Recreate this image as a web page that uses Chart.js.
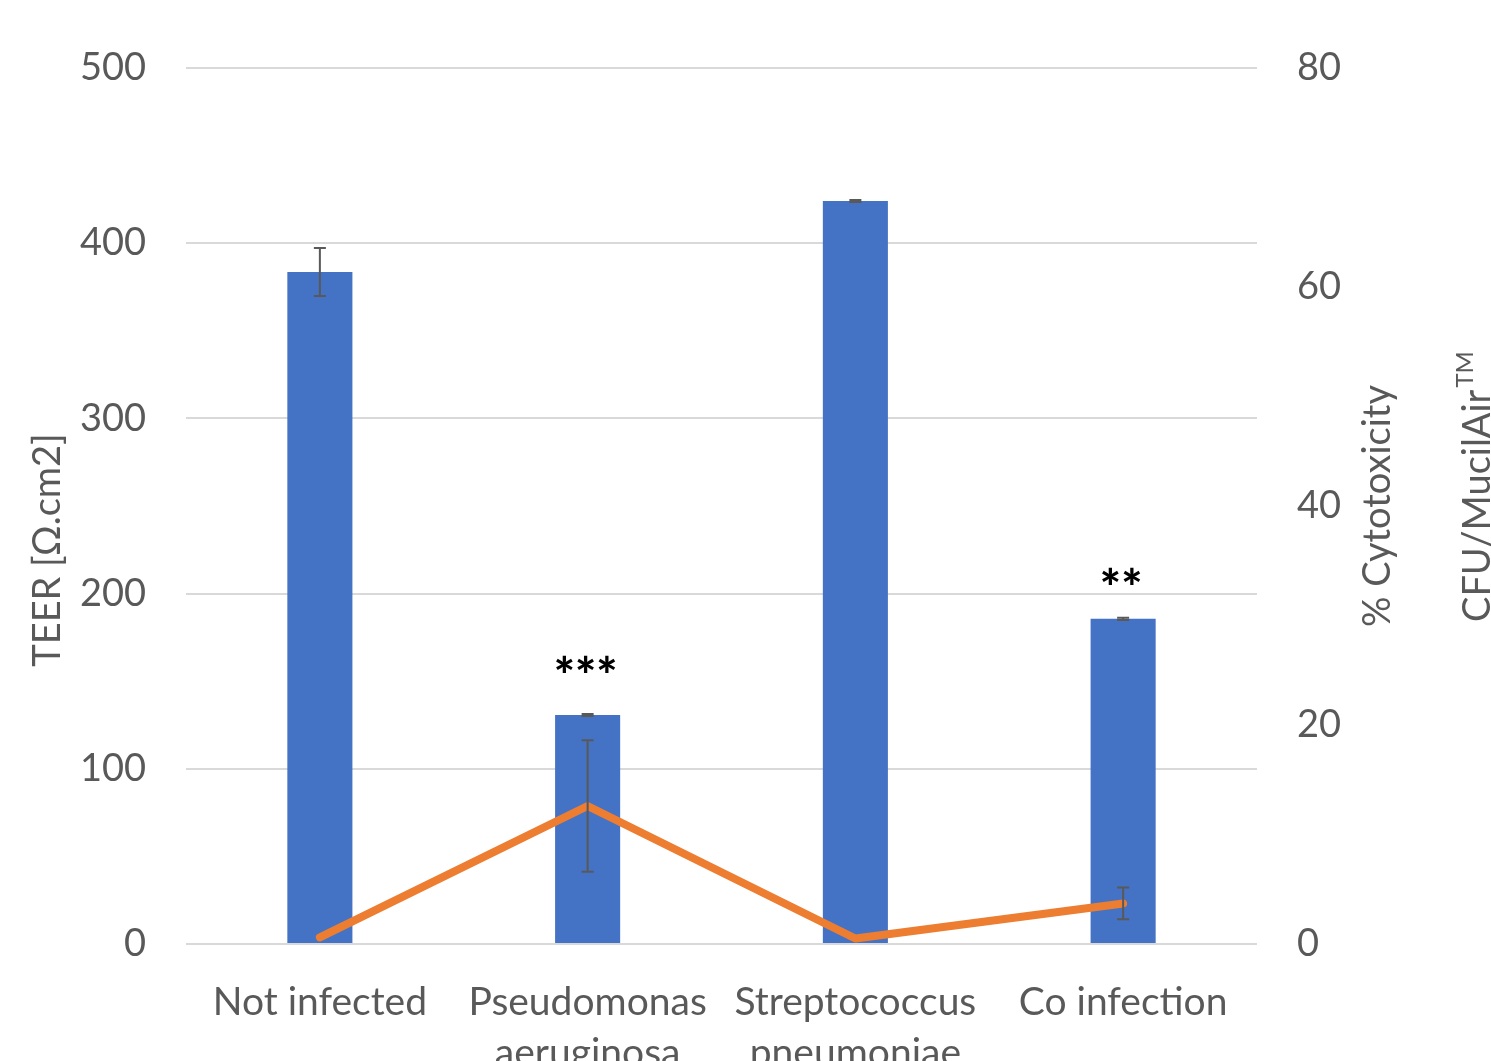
<!DOCTYPE html>
<html>
<head>
<meta charset="utf-8">
<script src="https://cdn.jsdelivr.net/npm/chart.js@4/dist/chart.umd.min.js"></script>
<style>
  html, body { margin: 0; padding: 0; background: #fff; overflow: hidden; }
  #wrap { width: 1491px; height: 1100px; }
</style>
</head>
<body>
<div id="wrap"><canvas id="teerChart" width="1491" height="1100"></canvas></div>
<script>
var categories = [["Not infected"], ["Pseudomonas", "aeruginosa"], ["Streptococcus", "pneumoniae"], ["Co infection"]];
var teer = [383.6, 130.7, 424.1, 185.6];
var teerErr = [13.7, 0.6, 0.6, 0.6];
var cytotox = [0.6, 12.6, 0.5, 3.7];
var cytotoxErr = [0, 6.0, 0, 1.45];
var stars = ["", "***", "", "**"];
var teerTicks = [0, 100, 200, 300, 400, 500];
var cytoTicks = [0, 20, 40, 60, 80];

var FONT = "Lato";
var GREY = "#595959";

// error bars + significance stars
var errorBars = {
  id: "errorBars",
  afterDatasetsDraw: function (chart) {
    var ctx = chart.ctx;
    ctx.save();
    chart.data.datasets.forEach(function (ds, i) {
      if (!ds.errors) return;
      var meta = chart.getDatasetMeta(i);
      var sc = chart.scales[ds.yAxisID];
      meta.data.forEach(function (el, j) {
        var e = ds.errors[j];
        if (!e) return;
        var x = el.x;
        var yHi = sc.getPixelForValue(ds.data[j] + e);
        var yLo = sc.getPixelForValue(ds.data[j] - e);
        ctx.strokeStyle = GREY;
        ctx.lineWidth = 2;
        ctx.beginPath();
        ctx.moveTo(x, yHi); ctx.lineTo(x, yLo);
        ctx.moveTo(x - 6, yHi); ctx.lineTo(x + 6, yHi);
        ctx.moveTo(x - 6, yLo); ctx.lineTo(x + 6, yLo);
        ctx.stroke();
      });
    });
    // stars above bars (text boxes sit at slightly different heights)
    var lift = [0, 21, 0, 13];
    var barMeta = chart.getDatasetMeta(1);
    ctx.fillStyle = "#000";
    ctx.font = "900 50px " + FONT;
    ctx.textAlign = "center";
    ctx.textBaseline = "alphabetic";
    barMeta.data.forEach(function (el, j) {
      if (stars[j]) ctx.fillText(stars[j], el.x - 2, el.y - lift[j]);
    });
    ctx.restore();
  }
};

// axis titles
var axisTitles = {
  id: "axisTitles",
  afterDraw: function (chart) {
    var ctx = chart.ctx;
    var a = chart.chartArea;
    ctx.save();
    ctx.fillStyle = GREY;
    ctx.font = "38px " + FONT;
    ctx.textBaseline = "middle";
    ctx.textAlign = "center";

    ctx.save();
    ctx.translate(48, a.bottom - 394);
    ctx.rotate(-Math.PI / 2);
    ctx.fillText("TEER [Ω.cm2]", 0, 0);
    ctx.restore();

    ctx.save();
    ctx.translate(1378, a.bottom - 438);
    ctx.rotate(-Math.PI / 2);
    ctx.fillText("% Cytotoxicity", 0, 0);
    ctx.restore();

    ctx.save();
    ctx.translate(1478, a.bottom - 322);
    ctx.rotate(-Math.PI / 2);
    ctx.textAlign = "left";
    ctx.fillText("CFU/MucilAir", 0, 0);
    var w = ctx.measureText("CFU/MucilAir").width;
    ctx.font = "24px " + FONT;
    ctx.fillText("TM", w + 2, -13);
    ctx.restore();

    ctx.restore();
  }
};

var ctx = document.getElementById("teerChart").getContext("2d");
var myChart = new Chart(ctx, {
  type: "bar",
  data: {
    labels: categories,
    datasets: [
      {
        type: "line",
        label: "% Cytotoxicity",
        data: cytotox,
        errors: cytotoxErr,
        yAxisID: "y1",
        borderColor: "#ED7D31",
        borderWidth: 8,
        borderCapStyle: "round",
        borderJoinStyle: "round",
        pointRadius: 0,
        tension: 0,
        fill: false,
        order: 0,
      },
      {
        label: "TEER",
        data: teer,
        errors: teerErr,
        yAxisID: "y",
        backgroundColor: "#4472C4",
        categoryPercentage: 1,
        barPercentage: 0.243,
        order: 1,
      },
    ],
  },
  options: {
    responsive: false,
    animation: false,
    layout: { padding: { top: 68, bottom: 0, left: 0, right: 0 } },
    plugins: { legend: { display: false }, tooltip: { enabled: false } },
    scales: {
      x: {
        grid: { display: false },
        border: { display: false },
        ticks: {
          color: GREY,
          font: { family: FONT, size: 39, lineHeight: 1.3 },
          padding: 25,
          maxRotation: 0,
          autoSkip: false,
        },
        afterFit: function (s) { s.height = 156; },
      },
      y: {
        position: "left",
        min: 0,
        max: 500,
        afterBuildTicks: function (s) { s.ticks = teerTicks.map(function (v) { return { value: v }; }); },
        grid: { color: "#d9d9d9", lineWidth: 2, drawTicks: false },
        border: { display: false },
        ticks: { color: GREY, font: { family: FONT, size: 38 }, padding: 40 },
        afterFit: function (s) { s.width = 186; },
      },
      y1: {
        position: "right",
        min: 0,
        max: 80,
        afterBuildTicks: function (s) { s.ticks = cytoTicks.map(function (v) { return { value: v }; }); },
        grid: { display: false, drawTicks: false },
        border: { display: false },
        ticks: { color: GREY, font: { family: FONT, size: 38 }, padding: 40 },
        afterFit: function (s) { s.width = 234; },
      },
    },
  },
  plugins: [errorBars, axisTitles],
});
</script>
</body>
</html>
